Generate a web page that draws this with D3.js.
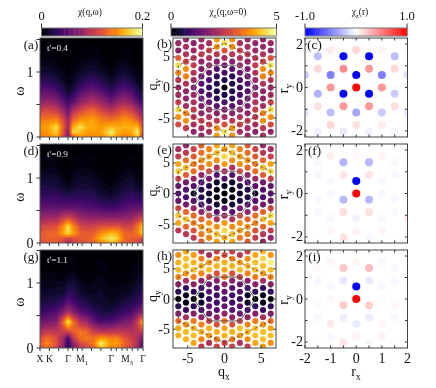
<!DOCTYPE html>
<html><head><meta charset="utf-8">
<script src="https://cdnjs.cloudflare.com/ajax/libs/d3/7.8.5/d3.min.js"></script>
<style>html,body{margin:0;padding:0;background:#fff}svg{display:block;filter:blur(.35px)}text{font-family:"Liberation Serif",serif;fill:#111}</style>
</head><body><div id="c"></div>
<script>
// ---- spectral panels: k-path positions, energies, percent of colorbar top (0.2)
const kGrid=[0,1.5,3.5,5,6,7,8.6,10,11.4,13,15.2,16.5,18,19.5,20.9,22];
const omegaGrid=[0,.07,.15,.25,.4,.55,.7,.85,1,1.2,1.52];
const kTicks=[0,2,4,6,7,8,9,11,13,15.2,16.3,17.5,18.6,19.7,20.9,22];
const kLabels=[[0,"X"],[2,"K"],[6,"Γ"],[9,"M",'1'],[15.2,"Γ"],[18.6,"M",'3'],[22,"Γ"]];
const chiA=[
[70,72,80,55,30,62,75,72,72,72,85,75,70,72,85,40],
[74,76,88,60,38,90,85,78,78,78,96,82,78,80,96,52],
[78,78,92,62,42,82,92,82,80,78,85,82,82,82,85,55],
[70,72,75,58,42,66,78,78,80,72,70,72,78,75,65,48],
[56,58,55,42,30,47,58,64,66,58,50,56,62,56,45,32],
[38,40,36,25,18,25,37,43,46,40,30,37,42,37,25,17],
[26,27,23,14,8,12,24,28,31,25,16,23,27,23,13,8],
[16,16,13,7,3,6,13,17,19,14,7,12,16,12,6,3],
[8,9,6,4,1,3,7,9,10,7,3,6,9,6,3,1],
[3,3,2,1,0,1,2,3,4,2,0,1,3,2,0,0],
[0,0,0,0,0,0,0,0,0,0,0,0,0,0,0,0]];
const chiD=[
[58,60,60,55,38,50,58,60,62,72,82,78,62,60,55,42],
[62,64,64,62,55,60,62,64,68,84,94,88,68,64,62,58],
[62,64,66,80,92,80,64,62,64,74,84,80,66,64,72,90],
[56,58,60,76,94,76,58,56,56,60,62,62,56,56,70,90],
[40,41,42,50,54,50,40,38,37,36,36,36,37,40,46,52],
[26,27,26,26,26,26,25,24,23,20,18,20,23,26,26,26],
[18,18,18,16,15,16,17,16,15,11,9,12,15,18,16,15],
[12,12,11,8,6,8,10,10,9,6,4,6,10,11,8,6],
[7,8,7,4,2,5,7,7,6,3,1,3,6,7,4,2],
[2,3,3,1,1,2,3,3,2,0,0,1,2,3,1,1],
[0,0,0,0,0,0,0,0,0,0,0,0,0,0,0,0]];
const chiG=[
[55,68,55,35,12,32,50,55,60,85,72,72,60,55,42,20],
[62,74,60,40,14,38,58,62,70,96,76,80,66,58,45,22],
[58,68,58,42,20,50,68,70,68,78,72,72,62,55,45,30],
[45,52,50,54,56,64,70,66,54,50,50,52,50,48,50,54],
[30,33,36,66,96,70,48,42,30,22,24,28,33,36,55,85],
[18,20,24,36,46,38,26,22,16,11,11,15,19,22,32,40],
[11,12,14,18,26,22,14,12,9,8,6,8,11,13,17,24],
[7,7,8,9,15,15,8,6,6,7,4,5,6,7,11,15],
[5,5,5,4,9,10,5,3,4,5,3,3,3,4,8,9],
[1,1,1,1,2,4,1,1,1,3,1,1,1,1,3,2],
[0,0,0,0,0,0,0,0,0,0,0,0,0,0,0,0]];
// ---- momentum lattice: percent of colorbar top (5), per column, top to bottom
const qxCols=[-6.283,-5.236,-4.189,-3.142,-2.094,-1.047,0,1.047,2.094,3.142,4.189,5.236,6.283];
const qyEven=[7.255,6.046,4.837,3.628,2.418,1.209,0,-1.209,-2.418,-3.628,-4.837,-6.046,-7.255];
const qyOdd=[7.86,6.651,5.441,4.232,3.023,1.814,.605,-.605,-1.814,-3.023,-4.232,-5.441,-6.651,-7.86];
const chiQB=[
[42,38,62,92,72,50,42,46,55,90,74,58,null],
[42,44,48,55,76,72,48,40,40,46,72,76,52,null],
[38,42,50,52,48,42,34,42,48,52,50,44,40],
[42,44,52,40,36,30,24,24,30,36,40,52,46,42],
[45,55,48,42,30,22,18,22,30,42,48,55,45],
[78,76,50,38,24,16,12,12,16,24,38,50,76,78],
[92,60,44,34,22,12,2,12,22,34,44,60,92],
[76,74,50,38,24,16,12,12,16,24,38,50,74,76],
[44,54,48,42,30,22,18,22,30,42,48,54,44],
[42,44,50,40,36,30,24,24,30,36,40,52,46,42],
[40,42,50,52,48,42,34,42,48,52,50,44,38],
[40,42,48,56,76,72,48,40,40,46,72,74,50,44],
[42,40,60,92,72,50,42,46,55,90,74,58,40]];
const chiQE=[
[45,52,80,88,55,30,25,30,58,88,80,50,null],
[42,50,68,86,62,32,22,22,32,64,86,66,50,null],
[55,62,70,68,42,25,8,25,42,68,72,60,52],
[62,68,74,64,40,22,12,12,22,40,64,74,70,62],
[72,78,76,58,32,12,8,12,32,58,76,78,72],
[80,86,76,48,26,8,3,3,8,26,48,76,86,80],
[78,90,78,44,24,4,0,4,24,44,78,90,80],
[80,86,76,48,26,8,3,3,8,26,48,76,86,80],
[72,78,76,58,32,12,8,12,32,58,76,78,70],
[62,68,74,64,40,22,12,12,22,40,64,74,70,62],
[55,62,70,68,42,25,8,25,42,68,72,60,52],
[42,50,66,86,62,32,22,22,32,64,86,66,50,42],
[45,52,80,90,55,30,25,30,58,90,80,52,40]];
const chiQH=[
[76,82,84,72,38,16,0,16,38,68,80,82,null],
[80,84,85,78,45,18,4,4,18,45,75,84,82,null],
[78,82,84,70,38,14,0,14,38,70,82,85,80],
[50,72,80,72,38,20,8,8,20,40,72,82,72,50],
[45,78,84,55,30,25,18,25,30,55,82,78,48],
[55,72,82,60,38,24,20,20,24,38,60,82,70,55],
[60,82,80,70,40,28,22,28,40,70,80,82,55],
[55,72,82,60,38,24,20,20,24,38,60,82,70,55],
[50,78,85,56,30,25,18,25,30,56,84,78,48],
[55,75,82,72,38,20,8,8,20,40,72,82,74,52],
[80,84,86,70,38,14,0,14,38,70,84,85,80],
[84,90,86,78,45,18,4,4,18,45,76,85,84,78],
[78,96,86,72,38,16,0,16,38,68,80,86,76]];
// hexagon corners in momentum space
const hexInner=[[4.189,0],[2.094,3.628],[-2.094,3.628],[-4.189,0],[-2.094,-3.628],[2.094,-3.628]];
const hexOuter=[[0,7.255],[6.283,3.628],[6.283,-3.628],[0,-7.255],[-6.283,-3.628],[-6.283,3.628]];
// ---- real-space honeycomb: sites per column, correlation per column
const rxCols=[-2,-1.5,-1,-.5,0,.5,1,1.5,2];
const ryEven=[2.309,1.732,.577,0,-1.155,-1.732];
const ryOdd=[1.443,.866,-.289,-.866,-2.021];
const chiRC=[
[0,.03,-.2,-.05,-.1,.02],
[-.25,.15,-.3,.12,-.06],
[0,.08,-.5,.4,-.25,.15],
[-1,.45,-1,.4,-.08],
[-.03,.15,-1,1,-.35,.12],
[-1,.4,-1,.4,-.05],
[0,.05,-.5,.4,-.2,.07],
[-.25,.15,-.2,.12,-.04],
[0,.03,-.12,-.03,-.08,.02]];
const chiRF=[
[0,.01,-.02,-.01,-.02,.01],
[-.03,-.03,-.03,-.03,.01],
[0,.06,-.03,-.03,-.03,.04],
[-.3,.1,-.28,.12,.12],
[-.02,.03,-1,1,-.05,.05],
[-.28,.1,-.28,.12,-.03],
[0,.04,-.03,-.03,-.03,.04],
[-.03,-.03,-.03,-.02,.01],
[0,.01,-.02,-.01,.08,.02]];
const chiRI=[
[0,.01,-.01,0,-.01,.01],
[.02,-.03,-.02,-.03,.01],
[0,.04,-.03,.03,.09,-.03],
[.22,-.1,.2,-.07,.1],
[0,.04,-1,1,-.08,.04],
[.25,-.08,.2,-.07,-.03],
[0,-.03,-.03,.02,.03,.05],
[-.03,-.03,.03,-.03,.01],
[0,.01,-.01,.01,-.01,.02]];
const heatCaptions=["t'=0.4","t'=0.9","t'=1.1"];
const qTicks=[-5,0,5];
const rxTicks=[-2,-1.5,-1,-.5,0,.5,1,1.5,2];
const ryTicks=[-2,-1,0,1,2];

const W=436,H=388,INK="#333";
const svg=d3.select("#c").append("svg").attr("width",W).attr("height",H);
const rows=[{t:38,b:137},{t:144,b:243},{t:250,b:348}];
const inferno=t=>d3.interpolateInferno(Math.round(Math.max(0,Math.min(1,t))*40)/40);
const bwr=d3.scaleLinear().domain([-1,0,1]).range(["#0000ff","#ffffff","#ff0000"]);

function txt(g,x,y,s,size,opt={}){
  const t=g.append("text").attr("x",x).attr("y",y).attr("font-size",size)
    .attr("text-anchor",opt.anchor||"middle");
  if(opt.rot!=null)t.attr("transform",`rotate(${opt.rot},${x},${y})`);
  if(opt.fill)t.style("fill",opt.fill);
  t.append("tspan").text(s);
  if(opt.sub){t.append("tspan").attr("font-size",size*.68).attr("dy",size*.28).text(opt.sub);
    if(opt.after)t.append("tspan").attr("dy",-size*.28).text(opt.after);}
  return t;
}
function frame(g,x,y,w,h,c){g.append("rect").attr("x",x).attr("y",y).attr("width",w).attr("height",h)
  .attr("fill","none").attr("stroke",c||INK).attr("stroke-width",1);}
function colorbar(x0,x1,fn,domain,labels){
  const g=svg.append("g");
  const xs=d3.scaleLinear().domain(domain).range([x0,x1]);
  const n=40,st=(domain[1]-domain[0])/n;
  g.selectAll("rect").data(d3.range(n)).join("rect")
    .attr("x",i=>xs(domain[0]+i*st)).attr("y",28).attr("width",(x1-x0)/n+.5).attr("height",8)
    .attr("fill",i=>fn(domain[0]+(i+.5)*st));
  frame(g,x0,28,x1-x0,8,"#777");
  domain.forEach((d,i)=>{
    g.append("line").attr("x1",xs(d)).attr("x2",xs(d)).attr("y1",23.5).attr("y2",28).attr("stroke",INK);
    txt(g,xs(d),20,labels[i],12.5);
  });
}
colorbar(41.5,142.5,v=>inferno(v/.2),[0,.2],["0","0.2"]);
colorbar(171,276.5,v=>inferno(v/5),[0,5],["0","5"]);
colorbar(305,407,v=>bwr(v),[-1,1],["-1.0","1.0"]);
txt(svg,90,15,"χ(q,ω)",9.5);
txt(svg,228,15,"χ",9.5,{sub:"z",after:"(q,ω=0)"});
txt(svg,360,15,"χ",9.5,{sub:"z",after:"(r)"});

// left column
const X0=40,X1=143;
const kX=d3.scaleLinear().domain([0,22]).range([X0,X1]);
const kIdx=d3.scaleLinear().domain(kGrid).range(kGrid.map((_,i)=>i));
const wIdx=d3.scaleLinear().domain(omegaGrid).range(omegaGrid.map((_,i)=>i));
function sample(m,k,w){
  const a=kIdx(k),b=wIdx(w);
  const i=Math.min(Math.floor(a),kGrid.length-2),j=Math.min(Math.floor(b),omegaGrid.length-2);
  const u=a-i,v=b-j;
  return (m[j][i]*(1-u)*(1-v)+m[j][i+1]*u*(1-v)+m[j+1][i]*(1-u)*v+m[j+1][i+1]*u*v)/100;
}
[chiA,chiD,chiG].forEach((m,r)=>{
  const {t,b}=rows[r];
  const wY=d3.scaleLinear().domain([0,(b-t)/65]).range([b,t]);
  const g=svg.append("g");
  const cells=[];
  for(let py=t;py<b;py++)for(let px=X0;px<X1;px++)
    cells.push([px,py,sample(m,kX.invert(px+.5),Math.min(1.52,wY.invert(py+.5)))]);
  g.selectAll("rect").data(cells).join("rect")
    .attr("x",d=>d[0]).attr("y",d=>d[1]).attr("width",1.05).attr("height",1.05)
    .attr("fill",d=>inferno(d[2])).attr("shape-rendering","crispEdges");
  frame(g,X0,t,X1-X0,b-t,"#555");
  [0,.5,1,1.5].forEach(w=>{const y=wY(w);
    g.append("line").attr("x1",X0-3.5).attr("x2",X0).attr("y1",y).attr("y2",y).attr("stroke",INK);});
  [0,1].forEach(w=>txt(g,30,wY(w)+4.5,String(w),14));
  kTicks.forEach(k=>g.append("line").attr("x1",kX(k)).attr("x2",kX(k)).attr("y1",b).attr("y2",b+3).attr("stroke",INK));
  txt(g,24,wY(.75)+3,"ω",14,{rot:-90});
  txt(g,31,t+11,"("+"adg"[r]+")",13);
  txt(g,47,t+13,heatCaptions[r],9.2,{anchor:"start",fill:"#eee"}).attr("opacity",.99);
  if(r===2)kLabels.forEach(l=>txt(g,kX(l[0]),b+14,l[1],9.5,{sub:l[2]}));
});

// middle column
const qX=d3.scaleLinear().domain([-7,7]).range([173,276]);
[chiQB,chiQE,chiQH].forEach((m,r)=>{
  const {t,b}=rows[r];
  const qY=d3.scaleLinear().domain([-8.1,8.1]).range([b,t]);
  const g=svg.append("g");
  const id="qc"+r;
  svg.append("clipPath").attr("id",id).append("rect").attr("x",173).attr("y",t).attr("width",103).attr("height",b-t);
  const dots=g.append("g").attr("clip-path",`url(#${id})`);
  const sites=[];
  m.forEach((col,i)=>col.forEach((v,j)=>{
    if(v==null)return;
    sites.push([qxCols[i],(i%2===0?qyEven:qyOdd)[j],v]);
  }));
  dots.selectAll("circle").data(sites).join("circle")
    .attr("cx",d=>qX(d[0])).attr("cy",d=>qY(d[1])).attr("r",3.05).attr("fill",d=>inferno(d[2]/100));
  const line=d3.line().x(d=>qX(d[0])).y(d=>qY(d[1])).curve(d3.curveLinearClosed);
  dots.append("path").attr("d",line(hexInner)).attr("fill","none")
    .attr("stroke",r===2?"#444":"#777").attr("stroke-width",.9);
  dots.append("path").attr("d",line(hexOuter)).attr("fill","none")
    .attr("stroke","#333").attr("stroke-width",.8).attr("stroke-dasharray","2.5,2.5");
  frame(g,173,t,103,b-t,"#444");
  qTicks.forEach(q=>{
    g.append("line").attr("x1",qX(q)).attr("x2",qX(q)).attr("y1",b).attr("y2",b-2.5).attr("stroke",INK);
    g.append("line").attr("x1",qX(q)).attr("x2",qX(q)).attr("y1",t).attr("y2",t+2.5).attr("stroke",INK);
    g.append("line").attr("x1",173).attr("x2",175.5).attr("y1",qY(q)).attr("y2",qY(q)).attr("stroke",INK);
    g.append("line").attr("x1",276).attr("x2",273.5).attr("y1",qY(q)).attr("y2",qY(q)).attr("stroke",INK);
    txt(g,170,qY(q)+4.5,String(q),14,{anchor:"end"});
    if(r===2)txt(g,qX(q),b+15,String(q),14);
  });
  txt(g,157,qY(0)-3,"q",14,{rot:-90,sub:"y"});
  txt(g,164.5,t+9.5,"("+"beh"[r]+")",13);
});
txt(svg,224,376,"q",14,{sub:"x"});

// right column
const rX=d3.scaleLinear().domain([-2,2]).range([305,407.5]);
[chiRC,chiRF,chiRI].forEach((m,r)=>{
  const {t,b}=rows[r];
  const rY=d3.scaleLinear().domain([-2.28,2.28]).range([b,t]);
  const g=svg.append("g");
  const id="rc"+r;
  svg.append("clipPath").attr("id",id).append("rect").attr("x",305).attr("y",t).attr("width",102.5).attr("height",b-t);
  const sites=[];
  m.forEach((col,i)=>col.forEach((v,j)=>sites.push([rxCols[i],(i%2===0?ryEven:ryOdd)[j],v])));
  g.append("g").attr("clip-path",`url(#${id})`).selectAll("circle").data(sites).join("circle")
    .attr("cx",d=>rX(d[0])).attr("cy",d=>rY(d[1])).attr("r",4).attr("fill",d=>bwr(d[2]));
  frame(g,305,t,102.5,b-t,"#444");
  rxTicks.forEach(x=>{
    g.append("line").attr("x1",rX(x)).attr("x2",rX(x)).attr("y1",b).attr("y2",b-2.5).attr("stroke",INK);
    g.append("line").attr("x1",rX(x)).attr("x2",rX(x)).attr("y1",t).attr("y2",t+2.5).attr("stroke",INK);
  });
  ryTicks.forEach(y=>{
    g.append("line").attr("x1",305).attr("x2",307.5).attr("y1",rY(y)).attr("y2",rY(y)).attr("stroke",INK);
    g.append("line").attr("x1",407.5).attr("x2",405).attr("y1",rY(y)).attr("y2",rY(y)).attr("stroke",INK);
  });
  [-2,0,2].forEach(y=>txt(g,303,rY(y)+4.5,String(y),14,{anchor:"end"}));
  if(r===2)[-2,-1,0,1,2].forEach(x=>txt(g,rX(x),b+15,String(x),14));
  txt(g,288,rY(0)+1,"r",14,{rot:-90,sub:"y"});
  txt(g,314.5,t+11,"("+"cfi"[r]+")",13);
});
txt(svg,356,376,"r",14,{sub:"x"});
</script></body></html>
